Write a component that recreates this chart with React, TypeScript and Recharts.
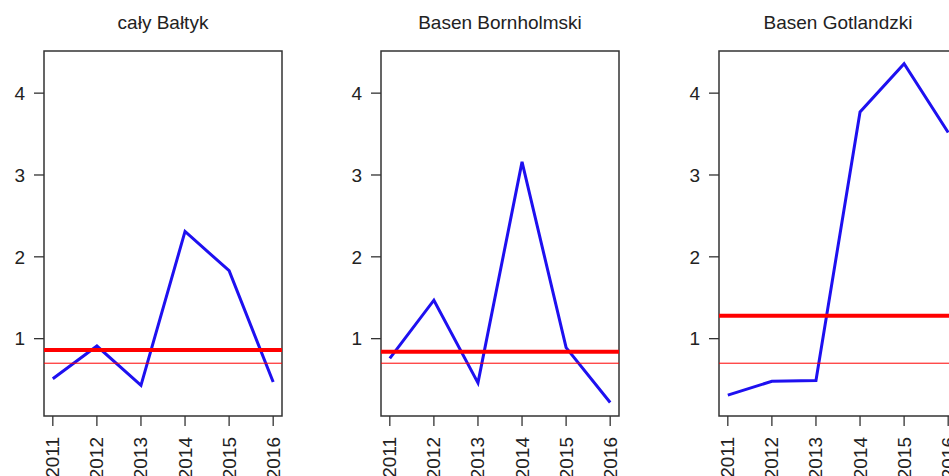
import React from 'react';
import { LineChart, Line, XAxis, YAxis, ReferenceLine, ReferenceArea } from 'recharts';

const years = [2011, 2012, 2013, 2014, 2015, 2016];
const titles = ['cały Bałtyk', 'Basen Bornholmski', 'Basen Gotlandzki'];
const baltykValues = [0.51, 0.91, 0.43, 2.31, 1.83, 0.47];
const bornholmValues = [0.76, 1.47, 0.46, 3.16, 0.89, 0.22];
const gotlandValues = [0.31, 0.48, 0.49, 3.77, 4.36, 3.52];
const thickLevels = [0.86, 0.84, 1.28];
const thinLevel = 0.7;
const yTicks = [1, 2, 3, 4];

const X_DOMAIN: [number, number] = [2010.8, 2016.2];
const Y_DOMAIN: [number, number] = [0.055, 4.515];
const FONT = '"Liberation Sans", Arial, sans-serif';

const YearTick = (props: any) => {
  const { x, y, payload } = props;
  return (
    <g transform={`translate(${x},${y + 9}) rotate(-90)`}>
      <text textAnchor="end" dominantBaseline="central" fontSize={19} fill="#222" fontFamily={FONT}>
        {payload.value}
      </text>
    </g>
  );
};

interface PanelProps {
  title: string;
  values: number[];
  thick: number;
  left: number;
}

const Panel: React.FC<PanelProps> = ({ title, values, thick, left }) => {
  const data = years.map((year, i) => ({ year, value: values[i] }));
  return (
    <div style={{ position: 'absolute', left, top: 0, width: 337, height: 476 }}>
      <div
        style={{
          position: 'absolute',
          left: 44,
          width: 238,
          top: 13,
          textAlign: 'center',
          fontFamily: FONT,
          fontSize: 19,
          lineHeight: '19px',
          color: '#222',
          whiteSpace: 'nowrap',
        }}
      >
        {title}
      </div>
      <LineChart width={337} height={476} data={data} margin={{ top: 51, right: 55, bottom: 0, left: 0 }}>
        <XAxis
          dataKey="year"
          type="number"
          domain={X_DOMAIN}
          ticks={years}
          allowDataOverflow
          axisLine={false}
          tickLine={{ stroke: '#333', strokeWidth: 1.3 }}
          tickSize={10}
          height={60}
          tick={<YearTick />}
          interval={0}
        />
        <YAxis
          type="number"
          domain={Y_DOMAIN}
          ticks={yTicks}
          allowDataOverflow
          axisLine={false}
          tickLine={{ stroke: '#333', strokeWidth: 1.3 }}
          tickSize={10}
          tickMargin={9}
          width={44}
          tick={{ fontSize: 19, fill: '#222', fontFamily: FONT }}
        />
        <ReferenceArea
          x1={X_DOMAIN[0]}
          x2={X_DOMAIN[1]}
          y1={Y_DOMAIN[0]}
          y2={Y_DOMAIN[1]}
          fill="none"
          stroke="#333"
          strokeWidth={1.5}
          fillOpacity={0}
        />
        <Line
          type="linear"
          dataKey="value"
          stroke="#1e10f0"
          strokeWidth={3}
          dot={false}
          isAnimationActive={false}
        />
        <ReferenceLine y={thick} stroke="#ff0000" strokeWidth={4} />
        <ReferenceLine y={thinLevel} stroke="#ff0000" strokeWidth={1} />
      </LineChart>
    </div>
  );
};

const seriesValues = [baltykValues, bornholmValues, gotlandValues];
const panelLefts = [0, 337, 675];

export default function App() {
  return (
    <div
      style={{
        position: 'absolute',
        left: 0,
        top: 0,
        width: 949,
        height: 476,
        overflow: 'hidden',
        background: '#fff',
      }}
    >
      {titles.map((t, i) => (
        <Panel key={t} title={t} values={seriesValues[i]} thick={thickLevels[i]} left={panelLefts[i]} />
      ))}
    </div>
  );
}
